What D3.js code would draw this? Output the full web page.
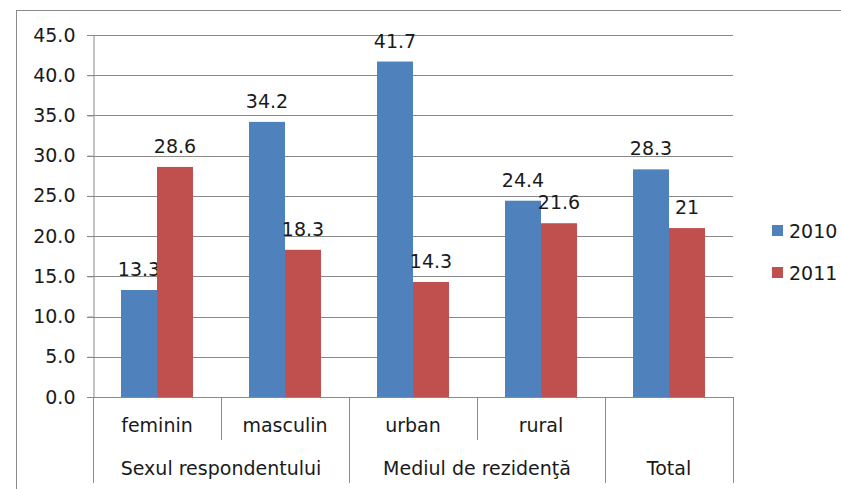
<!DOCTYPE html>
<html><head><meta charset="utf-8">
<script src="https://cdn.jsdelivr.net/npm/d3@7"></script>
<style>
html,body{margin:0;padding:0;background:#fff;}
svg text{font-family:"DejaVu Sans",sans-serif;fill:#1a1a1a;}
</style></head>
<body><svg id="c" width="841" height="489"></svg>
<script>
const categories = ["feminin","masculin","urban","rural","Total"];
const groups = [
  {label:"Sexul respondentului", cats:["feminin","masculin"]},
  {label:"Mediul de rezidenţă", cats:["urban","rural"]},
  {label:"Total", cats:["Total"]}
];
const categoryLabels = ["feminin","masculin","urban","rural",""];
const seriesNames = ["2010","2011"];
const values2010 = [13.3, 34.2, 41.7, 24.4, 28.3];
const values2011 = [28.6, 18.3, 14.3, 21.6, 21];
const labels2010 = ["13.3","34.2","41.7","24.4","28.3"];
const labels2011 = ["28.6","18.3","14.3","21.6","21"];
const yTicks = [0,5,10,15,20,25,30,35,40,45];
const colors = ["#4F81BD","#C0504D"];

(function(){
const svg = d3.select("#c");
const gridColor = "#8a8a8a";
const fs = 19;
const pLeft = 93, pRight = 733, pTop = 35, pBottom = 397;

// outer border
svg.append("rect").attr("x",16.5).attr("y",10.5).attr("width",900).attr("height",600)
  .attr("fill","none").attr("stroke",gridColor).attr("stroke-width",1);

const y = d3.scaleLinear().domain([0,45]).range([pBottom, pTop]);
const x0 = d3.scaleBand().domain(categories).range([pLeft, pRight]).paddingInner(0).paddingOuter(0);
const x1 = d3.scaleBand().domain(seriesNames).range([0, x0.bandwidth()]).paddingInner(0).paddingOuter(0.778);

// grid lines
svg.append("g").selectAll("line").data(yTicks).join("line")
  .attr("x1",pLeft-6).attr("x2",pRight)
  .attr("y1",d=>Math.round(y(d))+0.5).attr("y2",d=>Math.round(y(d))+0.5)
  .attr("stroke",gridColor).attr("stroke-width",1);

// y axis
const yAxis = d3.axisLeft(y).tickValues(yTicks).tickFormat(d3.format(".1f")).tickSize(6).tickPadding(12);
const ga = svg.append("g").attr("transform",`translate(${pLeft+0.5},0)`).call(yAxis);
ga.select(".domain").attr("stroke",gridColor);
ga.selectAll(".tick line").attr("stroke",gridColor);
ga.selectAll(".tick text").attr("font-size",fs).attr("font-family","DejaVu Sans").attr("fill","#1a1a1a");

// bars
const series = [values2010, values2011];
const seriesLabels = [labels2010, labels2011];
series.forEach((vals, si) => {
  const g = svg.append("g");
  g.selectAll("rect").data(categories).join("rect")
    .attr("x", (c)=> x0(c) + x1(seriesNames[si]))
    .attr("width", x1.bandwidth())
    .attr("y", (c,i)=> y(vals[i]))
    .attr("height", (c,i)=> y(0) - y(vals[i]))
    .attr("fill", colors[si]);
  g.selectAll("text").data(categories).join("text")
    .attr("x", (c)=> x0(c) + x1(seriesNames[si]) + x1.bandwidth()/2)
    .attr("y", (c,i)=> y(vals[i]) - 14)
    .attr("text-anchor","middle").attr("font-size",fs)
    .text((c,i)=> seriesLabels[si][i]);
});

// category axis separators
const sepG = svg.append("g");
const groupEdges = new Set([pLeft]);
groups.forEach(g => { const lastC = g.cats[g.cats.length-1]; groupEdges.add(x0(lastC)+x0.bandwidth()); });
categories.forEach(c => {
  const xr = x0(c) + x0.bandwidth();
  if (!groupEdges.has(xr)) {
    sepG.append("line").attr("x1",xr+0.5).attr("x2",xr+0.5).attr("y1",pBottom).attr("y2",440)
      .attr("stroke",gridColor);
  }
});
[...groupEdges].forEach(xv => {
  sepG.append("line").attr("x1",xv+0.5).attr("x2",xv+0.5).attr("y1",pBottom).attr("y2",483)
    .attr("stroke",gridColor);
});

// category labels
svg.append("g").selectAll("text").data(categories).join("text")
  .attr("x", c=> x0(c)+x0.bandwidth()/2).attr("y", 432)
  .attr("text-anchor","middle").attr("font-size",fs)
  .text((c,i)=> categoryLabels[i]);

// group labels
svg.append("g").selectAll("text").data(groups).join("text")
  .attr("x", g=> (x0(g.cats[0]) + x0(g.cats[g.cats.length-1]) + x0.bandwidth())/2)
  .attr("y", 475)
  .attr("text-anchor","middle").attr("font-size",fs)
  .text(g=> g.label);

// legend
const leg = svg.append("g");
seriesNames.forEach((s,i)=>{
  const ly = 231 + i*42;
  leg.append("rect").attr("x",772).attr("y",ly-6).attr("width",11).attr("height",11).attr("fill",colors[i]);
  leg.append("text").attr("x",789).attr("y",ly+7).attr("font-size",fs).text(s);
});
})();
</script></body></html>
